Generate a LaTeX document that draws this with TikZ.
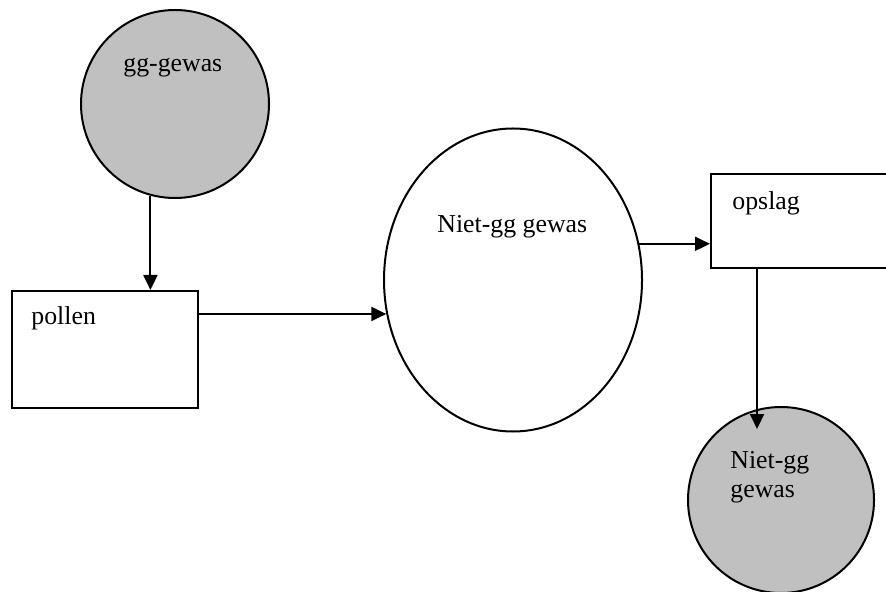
\documentclass[tikz,border=0pt]{standalone}
\usepackage{fontspec}
\setmainfont{Liberation Serif}
\usepackage{xcolor}
\usetikzlibrary{arrows.meta}
\usetikzlibrary{positioning}
\usetikzlibrary{calc}
\usetikzlibrary{shapes.geometric}
\definecolor{gewasgrey}{RGB}{192,192,192}

\begin{document}
\begin{tikzpicture}[x=0.5pt,y=-0.5pt,
	font=\fontsize{12.9}{14.5}\selectfont,
	arr/.style={-{Triangle[length=7.5pt,width=7pt]}, line width=1pt},
	bol/.style={circle, draw, line width=1pt, fill=gewasgrey, minimum size=94pt, inner sep=0pt},
	vak/.style={rectangle, draw, line width=1pt, inner sep=0pt},
	tekst/.style={anchor=base west, inner sep=0pt, align=left}]
	% frame
	\useasboundingbox (0,0) rectangle (886,592);
	\clip (0,0) rectangle (886,592);
	% draw shapes
	\node[bol] (gg) at (175,104) {};
	\node[vak, minimum width=93pt, minimum height=58.5pt] (pollen) at (105,349.5) {};
	\node[ellipse, draw, line width=1pt, minimum width=129pt, minimum height=151.5pt, inner sep=0pt] (niet) at (513,280) {};
	\node[vak, minimum width=100pt, minimum height=47pt] (opslag) at (811,221) {};
	\node[bol, minimum size=93pt] (nietgg) at (781,500) {};
	% add texts
	\node[tekst] (ggtxt) at (123,72) {gg-gewas};
	\node[tekst] (pollentxt) at (31,325) {pollen};
	\node[tekst] (niettxt) at (437,233) {Niet-gg gewas};
	\node[tekst] (opslagtxt) at (732,210) {opslag};
	\node[tekst] (nietggtxt) at (730,497) {Niet-gg\\gewas};
	% draw arrows
	\draw[arr] (gg.-105) -- (gg.-105 |- pollen.north);
	\draw[arr] (pollen.east |- niet.195) -- (niet.195);
	\draw[arr] (niet.16) -- (niet.16 -| opslag.west);
	\coordinate (o1) at ($(opslag.south west)+(47,0)$);
	\draw[arr] (o1) -- ($(o1 |- nietgg.north)+(0,23)$);
\end{tikzpicture}
\end{document}
